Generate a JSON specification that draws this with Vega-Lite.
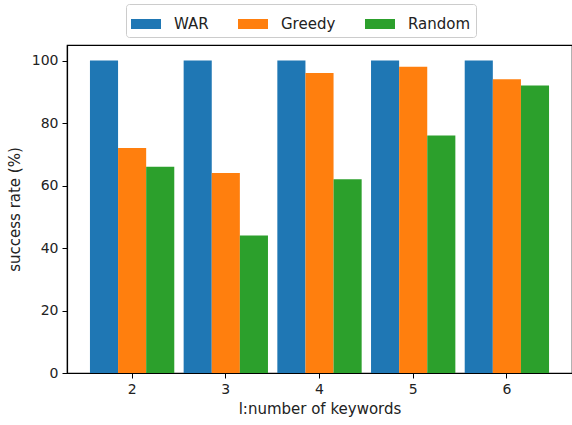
{
  "$schema": "https://vega.github.io/schema/vega-lite/v6.json",
  "width": 505,
  "height": 328,
  "autosize": {"type": "none"},
  "padding": {"left": 67, "top": 45, "right": 0, "bottom": 52},
  "background": "white",
  "config": {
    "font": "DejaVu Sans",
    "view": {"stroke": "black", "strokeWidth": 1.2},
    "axis": {
      "grid": false,
      "domainColor": "black",
      "domainWidth": 1.2,
      "tickColor": "black",
      "tickSize": 5,
      "labelFont": "DejaVu Sans",
      "labelFontSize": 14,
      "labelColor": "#222222",
      "titleFont": "DejaVu Sans",
      "titleFontSize": 15,
      "titleFontWeight": "normal",
      "titleColor": "#222222"
    }
  },
  "data": {
    "values": [
      {"l": "2", "method": "WAR", "rate": 100},
      {"l": "2", "method": "Greedy", "rate": 72},
      {"l": "2", "method": "Random", "rate": 66},
      {"l": "3", "method": "WAR", "rate": 100},
      {"l": "3", "method": "Greedy", "rate": 64},
      {"l": "3", "method": "Random", "rate": 44},
      {"l": "4", "method": "WAR", "rate": 100},
      {"l": "4", "method": "Greedy", "rate": 96},
      {"l": "4", "method": "Random", "rate": 62},
      {"l": "5", "method": "WAR", "rate": 100},
      {"l": "5", "method": "Greedy", "rate": 98},
      {"l": "5", "method": "Random", "rate": 76},
      {"l": "6", "method": "WAR", "rate": 100},
      {"l": "6", "method": "Greedy", "rate": 94},
      {"l": "6", "method": "Random", "rate": 92}
    ]
  },
  "mark": {"type": "bar"},
  "encoding": {
    "x": {
      "field": "l",
      "type": "nominal",
      "title": "l:number of keywords",
      "scale": {"paddingInner": 0.1, "paddingOuter": 0.245},
      "axis": {"labelAngle": 0, "labelPadding": 4, "titlePadding": 5}
    },
    "xOffset": {
      "field": "method",
      "type": "nominal",
      "sort": ["WAR", "Greedy", "Random"],
      "scale": {"paddingInner": 0, "paddingOuter": 0}
    },
    "y": {
      "field": "rate",
      "type": "quantitative",
      "title": "success rate (%)",
      "scale": {"domain": [0, 105], "nice": false},
      "axis": {"values": [0, 20, 40, 60, 80, 100], "labelPadding": 4, "titlePadding": 9}
    },
    "color": {
      "field": "method",
      "type": "nominal",
      "sort": ["WAR", "Greedy", "Random"],
      "scale": {"domain": ["WAR", "Greedy", "Random"], "range": ["#1f77b4", "#ff7f0e", "#2ca02c"]},
      "legend": {
        "title": null,
        "orient": "none",
        "direction": "horizontal",
        "legendX": 59,
        "legendY": -41,
        "symbolType": "M-1,-0.333H1V0.333H-1Z",
        "symbolSize": 900,
        "symbolStrokeWidth": 0,
        "labelFontSize": 15,
        "labelFont": "DejaVu Sans",
        "labelColor": "#222222",
        "labelOffset": 13,
        "columnPadding": 29,
        "padding": 5,
        "strokeColor": "#cccccc",
        "fillColor": "white",
        "cornerRadius": 3
      }
    }
  }
}
